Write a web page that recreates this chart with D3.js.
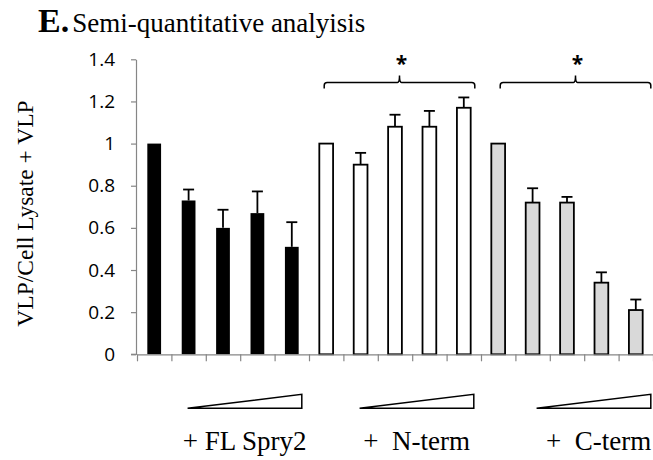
<!DOCTYPE html>
<html>
<head>
<meta charset="utf-8">
<script src="https://cdn.jsdelivr.net/npm/d3@7"></script>
<style>
  html, body { margin: 0; padding: 0; background: #fff; }
  svg { display: block; }
</style>
</head>
<body>
<div id="chart"></div>
<script>
// Values (relative VLP release, mean + upper SD)
const values = [1, 0.73, 0.60, 0.67, 0.51, 1, 0.90, 1.08, 1.08, 1.17, 1, 0.72, 0.72, 0.34, 0.21];
const errors = [0, 0.052, 0.086, 0.103, 0.117, 0, 0.056, 0.057, 0.075, 0.049, 0, 0.068, 0.027, 0.049, 0.05];
const barGroup = [0, 0, 0, 0, 0, 1, 1, 1, 1, 1, 2, 2, 2, 2, 2];
const groupLabels = ['+ FL Spry2', '+  N-term', '+  C-term'];
const groupFirst = [0, 5, 10];
const groupLast = [4, 9, 14];
const yTicks = [0, 0.2, 0.4, 0.6, 0.8, 1, 1.2, 1.4];
const brackets = [{ from: 5, to: 9, label: '*' }, { from: 10, to: 14, label: '*' }];

const W = 653, H = 460;
const serif = "'Liberation Serif', 'Times New Roman', serif";
const sans = "'Open Sans', 'Liberation Sans', sans-serif";
const axisColor = '#868686';

// Group styles
const fills = ['#000000', '#ffffff', '#d9d9d9'];

const svg = d3.select('#chart').append('svg')
  .attr('width', W).attr('height', H)
  .attr('viewBox', `0 0 ${W} ${H}`);

// Scales
const x = d3.scaleBand().domain(d3.range(values.length)).range([137, 653]);
const xEdge = d3.scaleLinear().domain([0, values.length]).range([137, 653]);
const y = d3.scaleLinear().domain([0, 1.4]).range([354.3, 59.3]);
const barW = x.bandwidth() * 0.4;
const cx = i => x(i) + x.bandwidth() / 2;

// Title
const title = svg.append('text')
  .attr('x', 38).attr('y', 32)
  .attr('font-family', serif);
title.append('tspan').attr('font-size', '34px').attr('font-weight', 'bold').text('E.');
title.append('tspan').attr('font-size', '27px').attr('dx', 3).text('Semi-quantitative analyisis');

// Y axis
const yAxis = svg.append('g')
  .attr('transform', 'translate(136,0)')
  .call(d3.axisLeft(y).tickValues(yTicks).tickSize(5).tickSizeOuter(0).tickPadding(16)
    .tickFormat(d => String(+d.toFixed(1))));
yAxis.select('.domain').attr('stroke', axisColor).attr('stroke-width', 1.2);
yAxis.selectAll('.tick line').attr('stroke', axisColor).attr('stroke-width', 1.2);
yAxis.selectAll('.tick text')
  .attr('font-family', sans).attr('font-size', '19px').attr('fill', '#000');

// Y label
svg.append('text')
  .attr('transform', 'rotate(-90)')
  .attr('x', -213.5).attr('y', 33)
  .attr('text-anchor', 'middle')
  .attr('font-family', serif).attr('font-size', '23.5px')
  .text('VLP/Cell Lysate + VLP');

// Bars
svg.append('g').selectAll('rect')
  .data(values)
  .join('rect')
  .attr('x', (d, i) => cx(i) - barW / 2)
  .attr('y', d => y(d))
  .attr('width', barW)
  .attr('height', d => y(0) - y(d))
  .attr('fill', (d, i) => fills[barGroup[i]])
  .attr('stroke', (d, i) => barGroup[i] === 0 ? 'none' : '#000')
  .attr('stroke-width', 1.8);

// Error bars (upper only)
const err = svg.append('g').attr('stroke', '#000').attr('stroke-width', 1.8);
values.forEach((v, i) => {
  if (!errors[i]) return;
  const top = y(v + errors[i]);
  err.append('line').attr('x1', cx(i)).attr('x2', cx(i)).attr('y1', y(v)).attr('y2', top);
  err.append('line').attr('x1', cx(i) - 5.5).attr('x2', cx(i) + 5.5).attr('y1', top).attr('y2', top);
});

// X axis: line plus ticks at category boundaries
const xAxis = svg.append('g')
  .attr('transform', `translate(0,${y(0)})`)
  .call(d3.axisBottom(xEdge).tickValues(d3.range(values.length + 1)).tickSize(7).tickSizeOuter(0).tickFormat(''));
xAxis.select('.domain').attr('stroke', axisColor).attr('stroke-width', 1.2);
xAxis.selectAll('.tick line').attr('stroke', axisColor).attr('stroke-width', 1.2);
svg.append('line')
  .attr('x1', 131).attr('x2', 137).attr('y1', y(0)).attr('y2', y(0))
  .attr('stroke', axisColor).attr('stroke-width', 1.2);

// Significance brackets
const bY = y(1.29);
brackets.forEach((b, k) => {
  const x1 = cx(b.from) - 2 + k * 4;
  const x2 = cx(b.to) + 11 + k * 4;
  const xm = (x1 + x2) / 2;
  const r = 3;
  svg.append('path')
    .attr('d', `M${x1},${bY + 6} L${x1},${bY + r} Q${x1},${bY} ${x1 + r},${bY} L${xm - 2},${bY} Q${xm},${bY} ${xm},${bY - 7} Q${xm},${bY} ${xm + 2},${bY} L${x2 - r},${bY} Q${x2},${bY} ${x2},${bY + r} L${x2},${bY + 6}`)
    .attr('fill', 'none').attr('stroke', '#000').attr('stroke-width', 1.5);
  svg.append('text')
    .attr('x', xm + 2).attr('y', bY - 11)
    .attr('text-anchor', 'middle')
    .attr('font-family', sans).attr('font-size', '21px').attr('font-weight', 'bold')
    .text(b.label);
});

// Dose wedges and group labels
groupLabels.forEach((label, gi) => {
  const shift = gi === 2 ? 5 : 0;
  const x1 = cx(groupFirst[gi] + 1) - 1 + shift;
  const x2 = cx(groupLast[gi]) + 10 + shift;
  svg.append('path')
    .attr('d', `M${x1},408.3 L${x2},394.3 L${x2},408.3 Z`)
    .attr('fill', '#fff').attr('stroke', '#000').attr('stroke-width', 1.5)
    .attr('stroke-linejoin', 'miter');
  svg.append('text')
    .attr('x', (x1 + x2) / 2 + (gi === 2 ? 5 : 0)).attr('y', 450)
    .attr('text-anchor', 'middle')
    .attr('font-family', serif).attr('font-size', '27px')
    .style('white-space', 'pre')
    .text(label);
});
</script>
</body>
</html>
